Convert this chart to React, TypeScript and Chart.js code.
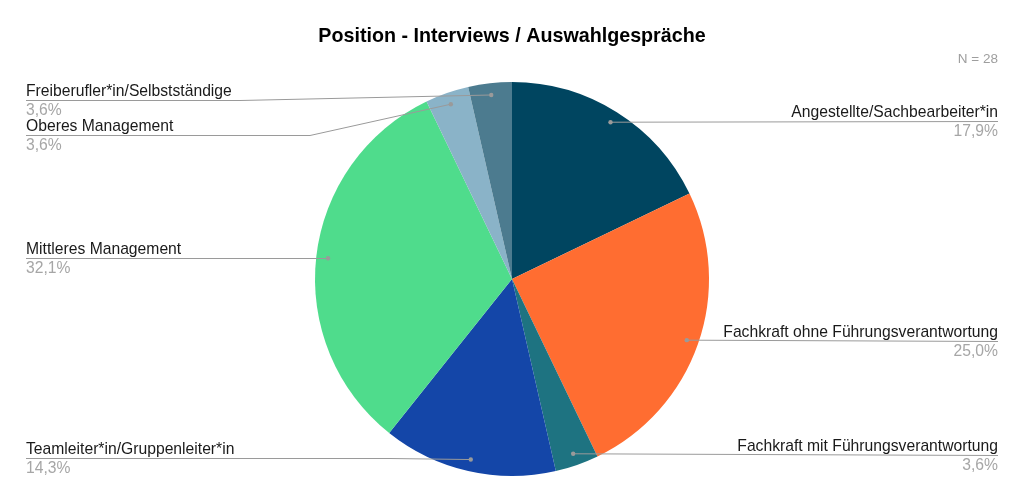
import React, { useEffect, useRef } from "react";
import { Chart, registerables } from "chart.js";

Chart.register(...registerables);

const TITLE = "Position - Interviews / Auswahlgespräche";
const NOTE = "N = 28";

const categories = [
  "Angestellte/Sachbearbeiter*in",
  "Fachkraft ohne Führungsverantwortung",
  "Fachkraft mit Führungsverantwortung",
  "Teamleiter*in/Gruppenleiter*in",
  "Mittleres Management",
  "Oberes Management",
  "Freiberufler*in/Selbstständige",
];

const counts = [5, 7, 1, 4, 9, 1, 1];

const colors = [
  "#004560",
  "#FF6D31",
  "#1E7381",
  "#1446A8",
  "#4FDC8C",
  "#8AB3C8",
  "#4C7B8F",
];

// label placement (layout only)
const labelLayout = [
  { side: "right", lineY: 121, bendX: 0 },
  { side: "right", lineY: 341, bendX: 0 },
  { side: "right", lineY: 455, bendX: 0 },
  { side: "left", lineY: 458, bendX: 390 },
  { side: "left", lineY: 258, bendX: 0 },
  { side: "left", lineY: 135, bendX: 310 },
  { side: "left", lineY: 100, bendX: 240 },
];

const FONT = '"Liberation Sans", Arial, sans-serif';

const labelPlugin = {
  id: "labelPlugin",
  afterDraw(chart: any) {
    const ctx = chart.ctx;
    const meta = chart.getDatasetMeta(0);
    const total = counts.reduce((a, b) => a + b, 0);
    ctx.save();
    // title
    ctx.fillStyle = "#000";
    ctx.font = `bold 19.7px ${FONT}`;
    ctx.textAlign = "center";
    ctx.textBaseline = "alphabetic";
    ctx.fillText(TITLE, 512, 42);
    ctx.font = `13.5px ${FONT}`;
    ctx.fillStyle = "#9e9e9e";
    ctx.textAlign = "right";
    ctx.fillText(NOTE, 998, 63);

    meta.data.forEach((arc: any, i: number) => {
      const p = arc.getProps(["x", "y", "startAngle", "endAngle", "outerRadius"], true);
      const mid = (p.startAngle + p.endAngle) / 2;
      const r = p.outerRadius * 0.94;
      const dx = p.x + Math.cos(mid) * r;
      const dy = p.y + Math.sin(mid) * r;
      const lay = labelLayout[i];
      const pct = ((counts[i] / total) * 100).toFixed(1).replace(".", ",") + "%";
      ctx.strokeStyle = "#9a9a9a";
      ctx.lineWidth = 1;
      ctx.beginPath();
      if (lay.side === "right") {
        ctx.moveTo(dx, dy);
        ctx.lineTo(998, lay.lineY + 0.5);
      } else {
        ctx.moveTo(26, lay.lineY + 0.5);
        const bx = lay.bendX || dx;
        ctx.lineTo(bx, lay.lineY + 0.5);
        ctx.lineTo(dx, dy);
      }
      ctx.stroke();
      ctx.fillStyle = "#9a9a9a";
      ctx.beginPath();
      ctx.arc(dx, dy, 2.2, 0, Math.PI * 2);
      ctx.fill();

      const tx = lay.side === "right" ? 998 : 26;
      ctx.textAlign = lay.side === "right" ? "right" : "left";
      ctx.font = `15.7px ${FONT}`;
      ctx.fillStyle = "#1a1a1a";
      ctx.fillText(categories[i], tx, lay.lineY - 4);
      ctx.fillStyle = "#a6a6a6";
      ctx.fillText(pct, tx, lay.lineY + 15);
    });
    ctx.restore();
  },
};

export default function App() {
  const ref = useRef<HTMLCanvasElement | null>(null);
  useEffect(() => {
    document.body.style.margin = "0";
    if (!ref.current) return;
    const chart = new Chart(ref.current, {
      type: "pie",
      data: {
        labels: categories,
        datasets: [
          {
            data: counts,
            backgroundColor: colors,
            borderWidth: 0,
          },
        ],
      },
      options: {
        responsive: false,
        animation: false,
        layout: { padding: { top: 82, bottom: 25, left: 0, right: 0 } },
        plugins: {
          legend: { display: false },
          title: { display: false },
          tooltip: { enabled: false },
        },
      },
      plugins: [labelPlugin],
    });
    return () => chart.destroy();
  }, []);
  return (
    <div style={{ position: "absolute", left: 0, top: 0, width: 1024, height: 501, background: "#fff" }}>
      <canvas ref={ref} width={1024} height={501} style={{ display: "block" }} />
    </div>
  );
}
